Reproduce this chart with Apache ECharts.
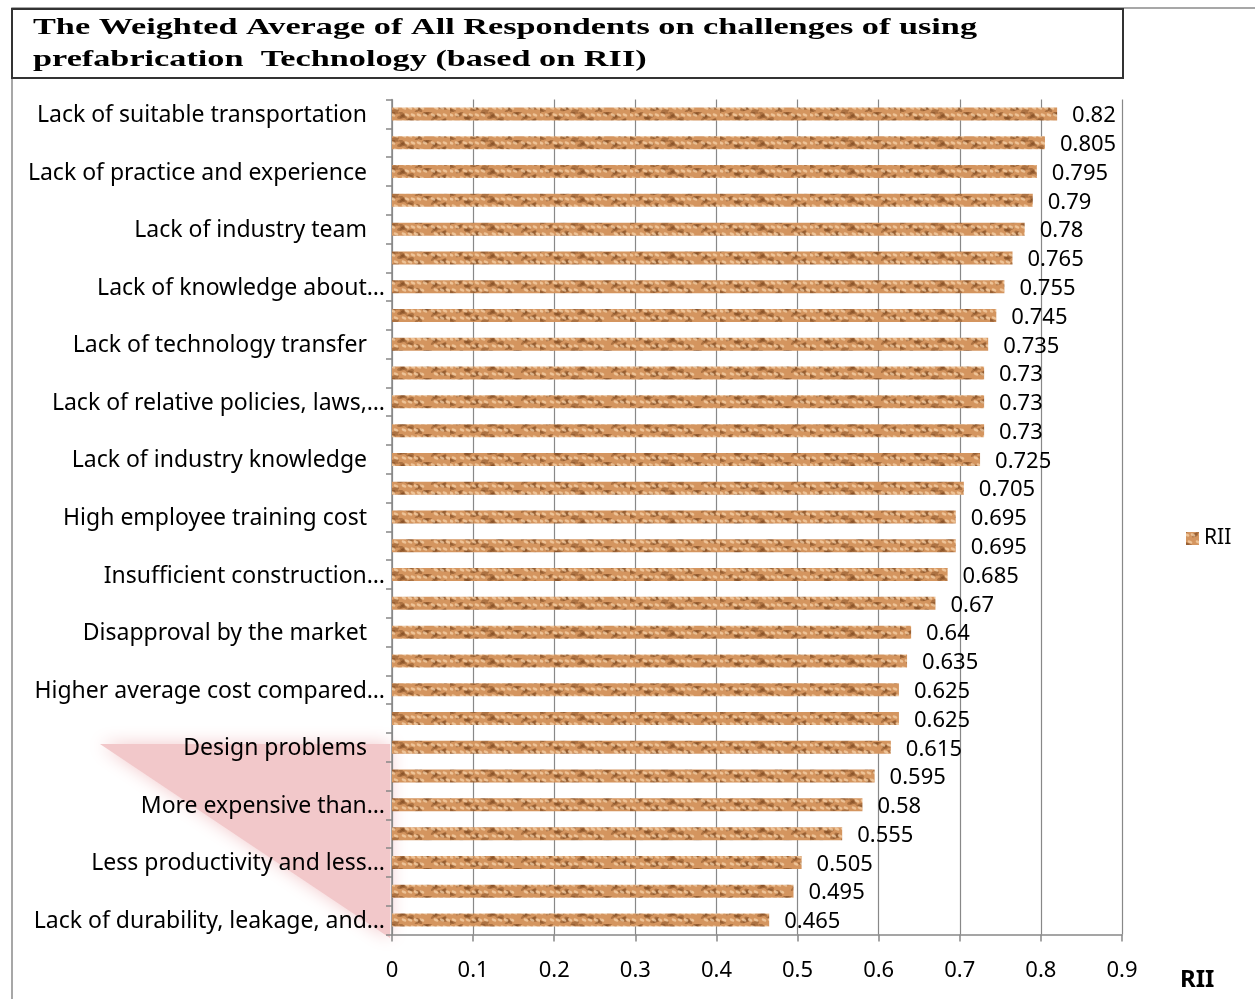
<!DOCTYPE html>
<html>
<head>
<meta charset="utf-8">
<script src="https://cdn.jsdelivr.net/npm/echarts@6/dist/echarts.min.js"></script>
<style>html,body{margin:0;padding:0;background:#fff}#chart{width:1255px;height:999px}</style>
</head>
<body>
<div id="chart"></div>
<script>
// ---- data ----
var categories = [
  'Lack of suitable transportation', '',
  'Lack of practice and experience', '',
  'Lack of industry team', '',
  'Lack of knowledge about\u2026', '',
  'Lack of technology transfer', '',
  'Lack of relative policies, laws,\u2026', '',
  'Lack of industry knowledge', '',
  'High employee training cost', '',
  'Insufficient construction\u2026', '',
  'Disapproval by the market', '',
  'Higher average cost compared\u2026', '',
  'Design problems', '',
  'More expensive than\u2026', '',
  'Less productivity and less\u2026', '',
  'Lack of durability, leakage, and\u2026'
];
var riiValues = [0.82, 0.805, 0.795, 0.79, 0.78, 0.765, 0.755, 0.745, 0.735, 0.73,
  0.73, 0.73, 0.725, 0.705, 0.695, 0.695, 0.685, 0.67, 0.64, 0.635,
  0.625, 0.625, 0.615, 0.595, 0.58, 0.555, 0.505, 0.495, 0.465];
var xTicks = [0, 0.1, 0.2, 0.3, 0.4, 0.5, 0.6, 0.7, 0.8, 0.9];
var seriesName = 'RII';
var titleLines = ['The Weighted Average of All Respondents on challenges of using',
  'prefabrication  Technology (based on RII)'];

// ---- texture pattern (deterministic) ----
function makePattern() {
  var c = document.createElement('canvas');
  c.width = 90; c.height = 14;
  var g = c.getContext('2d');
  g.fillStyle = '#d4955f';
  g.fillRect(0, 0, 90, 14);
  for (var i = 0; i < 30; i++) {
    var x = (i * 41) % 90, y = (i * 5) % 14;
    g.fillStyle = 'rgba(125,70,30,0.45)';
    g.beginPath();
    g.ellipse(x, y, 3 + (i % 3), 1.2 + (i % 2) * 0.6, ((i % 4) - 1.5) * 0.5, 0, Math.PI * 2);
    g.fill();
  }
  for (var j = 0; j < 26; j++) {
    var x2 = (j * 29 + 7) % 90, y2 = (j * 7 + 3) % 14;
    g.fillStyle = 'rgba(250,215,175,0.7)';
    g.beginPath();
    g.ellipse(x2, y2, 2.5, 1.3, 0.4, 0, Math.PI * 2);
    g.fill();
  }
  return c;
}
var pattern = makePattern();

var chart = echarts.init(document.getElementById('chart'));

function measure(txt, font) {
  var c = document.createElement('canvas').getContext('2d');
  c.font = font;
  return c.measureText(txt).width;
}
var titleFont = 'bold 23px "Liberation Serif"';
var titleScale = 944 / measure(titleLines[0], titleFont);

var option = {
  animation: false,
  backgroundColor: '#fff',
  grid: { left: 392, right: 133, top: 99.6, bottom: 64.6, containLabel: false },
  legend: {
    orient: 'vertical', left: 1181, top: 523,
    itemWidth: 13, itemHeight: 13, icon: 'rect',
    textStyle: { fontFamily: 'Noto Sans', fontSize: 21, color: '#000' },
    itemGap: 6,
    data: [seriesName]
  },
  xAxis: {
    type: 'value', min: 0, max: 0.9, interval: 0.1,
    axisLine: { show: true, lineStyle: { color: '#888', width: 1.5 } },
    axisTick: { show: true, length: 7, lineStyle: { color: '#888', width: 1.5 } },
    splitLine: { show: true, lineStyle: { color: '#888', width: 1.2 } },
    axisLabel: {
      margin: 25, fontFamily: 'Noto Sans', fontSize: 22, color: '#000',
      formatter: function (v) { var r = Math.round(v * 10) / 10; return xTicks.indexOf(r) >= 0 ? String(r) : ''; }
    }
  },
  yAxis: {
    type: 'category', inverse: true, data: categories,
    axisLine: { show: true, lineStyle: { color: '#888', width: 1.5 } },
    axisTick: { show: true, length: 6, interval: 0, lineStyle: { color: '#888', width: 1.5 } },
    axisLabel: {
      interval: 0, margin: 7,
      fontFamily: 'Noto Sans', fontSize: 23, color: '#000',
      formatter: function (v) {
        if (!v) return '';
        return v.indexOf('\u2026') >= 0 ? '{t|' + v + '}' : '{n|' + v + '}';
      },
      rich: {
        t: { fontFamily: 'Noto Sans', fontSize: 23, color: '#000', padding: [3, 0, 0, 0] },
        n: { fontFamily: 'Noto Sans', fontSize: 23, color: '#000', padding: [3, 18, 0, 0] }
      }
    }
  },
  series: [{
    name: seriesName, type: 'bar', data: riiValues, barWidth: 13,
    itemStyle: { color: { image: pattern, repeat: 'repeat' } },
    label: {
      show: true, position: 'right', distance: 15, offset: [0, 2],
      fontFamily: 'Noto Sans', fontSize: 22, color: '#000',
      formatter: function (p) { return String(p.value); }
    },
    z: 3
  }],
  graphic: [
    { type: 'rect', z: -20, silent: true, shape: { x: 12, y: 8, width: 1260, height: 1010 },
      style: { fill: 'none', stroke: '#8a8a8a', lineWidth: 1.5 } },
    { type: 'polygon', z: -10, silent: true,
      shape: { points: [[100, 744], [390, 744], [390, 938]] },
      style: { fill: '#f2c8ca', shadowBlur: 18, shadowColor: '#f2c8ca' } },
    { type: 'rect', z: 10, silent: true, shape: { x: 12, y: 9, width: 1111, height: 69 },
      style: { fill: '#fff', stroke: '#333', lineWidth: 2 } },
    { type: 'text', z: 11, silent: true, x: 33, y: 17, scaleX: titleScale, scaleY: 1,
      style: { text: titleLines[0], font: titleFont, fill: '#000' } },
    { type: 'text', z: 11, silent: true, x: 33, y: 49, scaleX: titleScale, scaleY: 1,
      style: { text: titleLines[1], font: titleFont, fill: '#000' } },
    { type: 'text', z: 11, silent: true, x: 1180, y: 968,
      style: { text: 'RII', font: 'bold 24px "Noto Sans"', fill: '#000' } }
  ]
};
chart.setOption(option);
</script>
</body>
</html>
